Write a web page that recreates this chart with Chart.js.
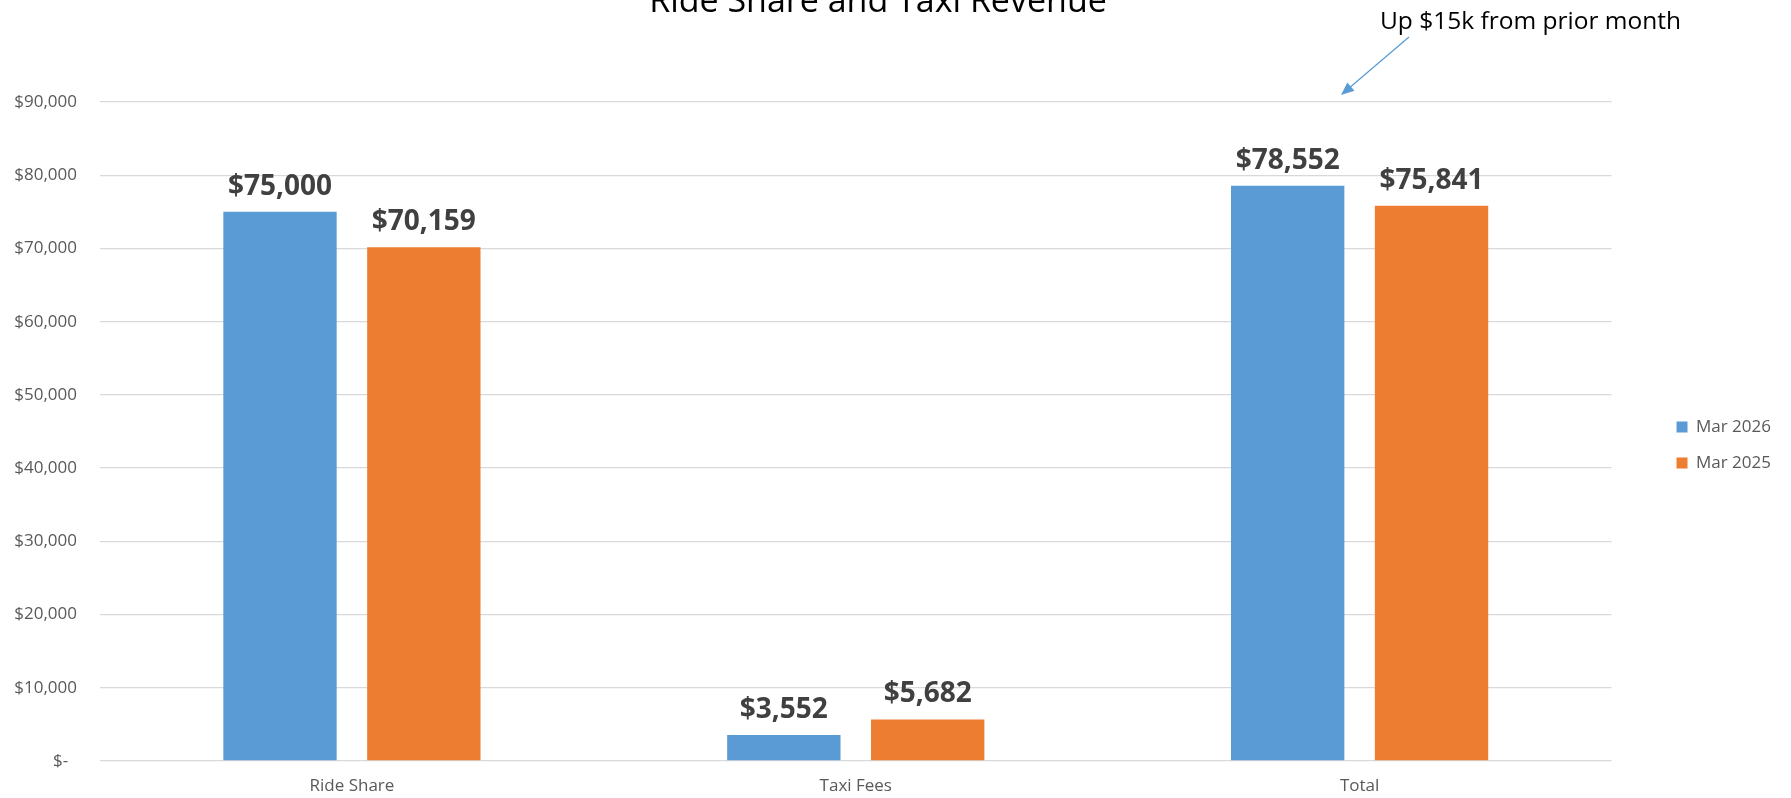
<!DOCTYPE html>
<html>
<head>
<meta charset="utf-8">
<title>Ride Share and Taxi Revenue</title>
<script src="https://cdn.jsdelivr.net/npm/chart.js@4.4.1/dist/chart.umd.min.js"></script>
<style>
  html, body { margin: 0; padding: 0; background: #fff; }
</style>
</head>
<body>
<canvas id="revChart" width="1791" height="798"></canvas>
<script>
// data
const categories = ["Ride Share", "Taxi Fees", "Total"];
const mar2026 = [75000, 3552, 78552];
const mar2025 = [70159, 5682, 75841];
const seriesNames = ["Mar 2026", "Mar 2025"];
const yMax = 90000;
const yStep = 10000;
const chartTitle = "Ride Share and Taxi Revenue";
const noteText = "Up $15k from prior month";

const FONT = "'Open Sans', 'Noto Sans', sans-serif";

function money(n) {
  return "$" + n.toLocaleString("en-US");
}

// value labels above each bar
const barLabels = {
  id: "barLabels",
  afterDatasetsDraw(chart) {
    const ctx = chart.ctx;
    ctx.save();
    ctx.font = "bold 28px " + FONT;
    ctx.fillStyle = "#404040";
    ctx.textAlign = "center";
    ctx.textBaseline = "alphabetic";
    chart.data.datasets.forEach((ds, i) => {
      chart.getDatasetMeta(i).data.forEach((bar, j) => {
        ctx.fillText(money(ds.data[j]), bar.x, bar.y - 17);
      });
    });
    ctx.restore();
  }
};

// title (cut off at the top like the original) + callout arrow
const titleAndNote = {
  id: "titleAndNote",
  afterDraw(chart) {
    const ctx = chart.ctx;
    ctx.save();
    ctx.fillStyle = "#000";
    ctx.textAlign = "center";
    ctx.textBaseline = "alphabetic";
    ctx.font = "34px " + FONT;
    ctx.fillText(chartTitle, 878, 12);

    ctx.font = "24.5px " + FONT;
    ctx.textAlign = "left";
    ctx.fillText(noteText, 1380, 29);

    // arrow
    const x1 = 1409, y1 = 37, x2 = 1341, y2 = 95;
    const ang = Math.atan2(y2 - y1, x2 - x1);
    ctx.strokeStyle = "#5B9BD5";
    ctx.fillStyle = "#5B9BD5";
    ctx.lineWidth = 1.3;
    ctx.beginPath();
    ctx.moveTo(x1, y1);
    ctx.lineTo(x2 - 10 * Math.cos(ang), y2 - 10 * Math.sin(ang));
    ctx.stroke();
    ctx.beginPath();
    ctx.moveTo(x2, y2);
    ctx.lineTo(x2 - 13 * Math.cos(ang) + 5.5 * Math.sin(ang), y2 - 13 * Math.sin(ang) - 5.5 * Math.cos(ang));
    ctx.lineTo(x2 - 13 * Math.cos(ang) - 5.5 * Math.sin(ang), y2 - 13 * Math.sin(ang) + 5.5 * Math.cos(ang));
    ctx.closePath();
    ctx.fill();
    ctx.restore();
  }
};

const ctx = document.getElementById("revChart").getContext("2d");
new Chart(ctx, {
  type: "bar",
  data: {
    labels: categories,
    datasets: [
      { label: seriesNames[0], data: mar2026, backgroundColor: "#5B9BD5" },
      { label: seriesNames[1], data: mar2025, backgroundColor: "#ED7D31" }
    ]
  },
  options: {
    responsive: false,
    animation: false,
    devicePixelRatio: 1,
    categoryPercentage: 0.571,
    barPercentage: 0.788,
    layout: { padding: { top: 92, left: 0, right: 10, bottom: 0 } },
    scales: {
      x: {
        grid: { display: false, drawTicks: false },
        border: { display: false },
        ticks: { color: "#595959", font: { family: FONT, size: 17 }, padding: 15 },
        afterFit: s => { s.height = 37; }
      },
      y: {
        min: 0,
        max: yMax,
        grid: { color: "#D9D9D9", lineWidth: 1.3, drawTicks: false },
        border: { display: false },
        ticks: {
          stepSize: yStep,
          color: "#595959",
          font: { family: FONT, size: 17 },
          padding: 23,
          callback: v => (v === 0 ? "$-  " : money(v))
        },
        afterFit: s => { s.width = 100; }
      },
      // empty spacer between plot and legend
      gap: {
        position: "right",
        display: true,
        grid: { display: false },
        border: { display: false },
        ticks: { display: false },
        afterFit: s => { s.width = 46; }
      }
    },
    plugins: {
      // empty 10px strip on top, so the plot starts at the $90,000 line
      title: { display: true, text: "", padding: 0, font: { size: 10, lineHeight: 1 } },
      tooltip: { enabled: false },
      legend: {
        position: "right",
        align: "center",
        labels: {
          boxWidth: 11,
          boxHeight: 11,
          padding: 19,
          color: "#595959",
          font: { family: FONT, size: 17 }
        }
      }
    }
  },
  plugins: [barLabels, titleAndNote]
});
</script>
</body>
</html>
